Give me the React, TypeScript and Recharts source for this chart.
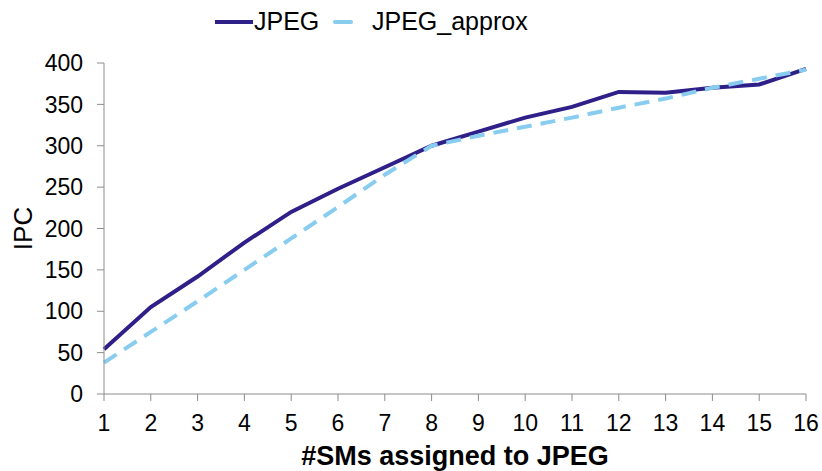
import { LineChart, Line, XAxis, YAxis } from 'recharts';

const smCounts = [1, 2, 3, 4, 5, 6, 7, 8, 9, 10, 11, 12, 13, 14, 15, 16];
const jpegIpc = [54, 105, 142, 183, 220, 248, 274, 300, 317, 334, 347, 365, 364, 370, 374, 393];
const approxIpc = [38, 75, 112, 150, 188, 226, 265, 300, 312, 323, 334, 346, 357, 370, 381, 392];
const yTicks = [0, 50, 100, 150, 200, 250, 300, 350, 400];
const seriesNames = ['JPEG', 'JPEG_approx'];

const data = smCounts.map((sm, i) => ({ sm, jpeg: jpegIpc[i], approx: approxIpc[i] }));

const FONT = "'Liberation Sans', Arial, sans-serif";
const DARK = '#2f1f88';
const LIGHT = '#88cdef';

// legend drawn on top, the chart's own Legend would push the plot down
function ChartLegend() {
  return (
    <svg width={822} height={45} style={{ position: 'absolute', left: 0, top: 0 }}>
      <line x1={215} y1={22} x2={253} y2={22} stroke={DARK} strokeWidth={4} />
      <text x={254} y={30} fontFamily={FONT} fontSize={25} fill="#000">{seriesNames[0]}</text>
      <line x1={335} y1={22} x2={351} y2={22} stroke={LIGHT} strokeWidth={4} strokeLinecap="round" />
      <text x={372} y={30} fontFamily={FONT} fontSize={25} fill="#000">{seriesNames[1]}</text>
    </svg>
  );
}

export default function App() {
  return (
    <div style={{ position: 'absolute', left: 0, top: 0, width: 822, height: 471, background: '#fff' }}>
      <LineChart width={822} height={471} data={data} margin={{ top: 63, right: 16, bottom: 0, left: 0 }}>
        <XAxis
          dataKey="sm"
          type="number"
          domain={[1, 16]}
          ticks={smCounts}
          interval={0}
          height={77}
          stroke="#8c8c8c"
          tickSize={7}
          tickMargin={14}
          tick={{ fill: '#000', fontSize: 23, fontFamily: FONT }}
          label={{
            value: '#SMs assigned to JPEG',
            position: 'insideBottom',
            offset: 6,
            fill: '#000',
            fontSize: 27,
            fontWeight: 'bold',
            fontFamily: FONT,
          }}
        />
        <YAxis
          domain={[0, 400]}
          ticks={yTicks}
          width={104}
          stroke="#8c8c8c"
          tickSize={7}
          tickMargin={14}
          tick={{ fill: '#000', fontSize: 23, fontFamily: FONT }}
          label={{
            value: 'IPC',
            angle: -90,
            position: 'insideLeft',
            offset: 23,
            fill: '#000',
            fontSize: 26,
            fontFamily: FONT,
            style: { textAnchor: 'middle' },
          }}
        />
        <Line
          dataKey="jpeg"
          name={seriesNames[0]}
          stroke={DARK}
          strokeWidth={4}
          dot={false}
          isAnimationActive={false}
        />
        <Line
          dataKey="approx"
          name={seriesNames[1]}
          stroke={LIGHT}
          strokeWidth={4}
          strokeDasharray="15 9"
          dot={false}
          isAnimationActive={false}
        />
      </LineChart>
      <ChartLegend />
    </div>
  );
}
